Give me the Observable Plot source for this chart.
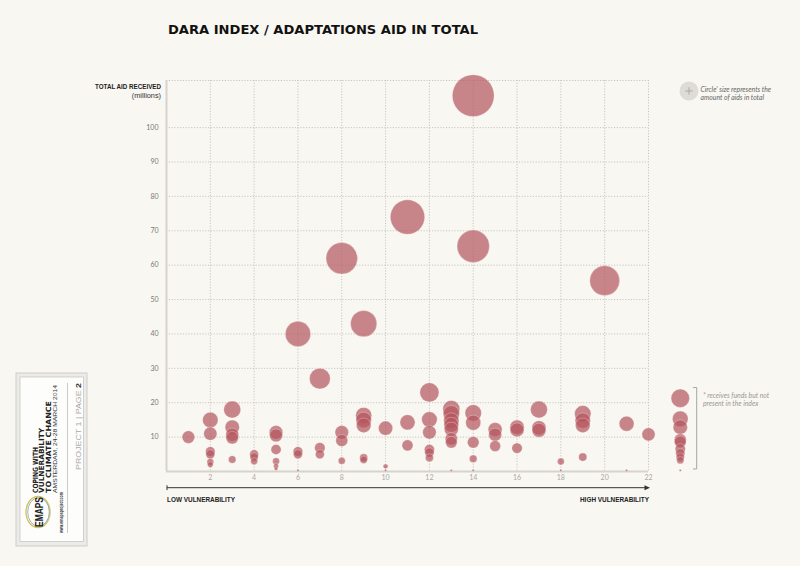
<!DOCTYPE html>
<html><head><meta charset="utf-8">
<script src="https://cdn.jsdelivr.net/npm/d3@7"></script>
<script src="https://cdn.jsdelivr.net/npm/@observablehq/plot@0.6"></script>
<style>
html,body{margin:0;padding:0;background:#f9f7f2;}
#chart{width:800px;height:566px;overflow:hidden;}
</style></head><body><div id="chart"></div>
<script>
// DARA index rank (vulnerability) for each recipient
const vulnerabilityRank = [
  1,
  2,2,2,2,2,2,
  3,3,3,3,3,
  4,4,4,
  5,5,5,5,5,5,
  6,6,6,6,
  7,7,7,
  8,8,8,8,
  9,9,9,9,9,9,
  10,10,10,
  11,11,11,
  12,12,12,12,12,12,
  13,13,13,13,13,13,13,13,
  14,14,14,14,14,14,14,
  15,15,15,
  16,16,16,
  17,17,17,
  18,18,
  19,19,19,19,
  20,
  21,21,
  22
];
// total adaptation aid received (millions)
const totalAid = [
  10,
  15, 11, 5.8, 5, 2.8, 2,
  18, 12.9, 10.7, 9.8, 3.5,
  5, 4.2, 3,
  11.4, 10.5, 6.4, 3, 1.6, 0.8,
  40, 5.8, 5, 0.3,
  27, 6.9, 5,
  62, 11.4, 9, 3.1,
  43, 16.3, 15, 13.4, 4, 3.4,
  12.6, 1.5, 0.3,
  74, 14.3, 7.6,
  23, 15.1, 11.4, 6.4, 5.5, 4,
  18.2, 16.8, 14.8, 13.6, 12.3, 9.5, 8.5, 0.3,
  109.3, 65.5, 17, 14.2, 8.5, 3.7, 0.3,
  12.2, 10.7, 7.4,
  12.9, 12.1, 6.8,
  18, 12.7, 12,
  2.9, 0.3,
  16.8, 14.8, 13.4, 4.2,
  55.5,
  13.9, 0.3,
  10.8
];
// recipients that receive funds but are not present in the index
const notInIndexAid = [21.3, 15.3, 12.9, 9.2, 8.6, 6.6, 5.3, 4.2, 3.3, 0.3];

const xTicks = [2,4,6,8,10,12,14,16,18,20,22];
const yTicks = [10,20,30,40,50,60,70,80,90,100];
const yTop = 113.7;
const notInIndexColumn = 23.45;

const data = vulnerabilityRank.map((v, i) => ({rank: v, aid: totalAid[i]}));
const naData = notInIndexAid.map(a => ({rank: notInIndexColumn, aid: a}));

const bubble = {fill: "#b4545c", fillOpacity: 0.7, stroke: "#ffffff", strokeOpacity: 0.35, strokeWidth: 0.8};
const gridStyle = {stroke: "#c9c6bf", strokeDasharray: "1.2,1.6", strokeWidth: 1};

const plot = Plot.plot({
  width: 800, height: 566,
  marginLeft: 166, marginRight: 152, marginTop: 80, marginBottom: 95,
  style: {background: "#f9f7f2", fontFamily: "Lato, 'Open Sans', sans-serif", overflow: "visible"},
  x: {domain: [0, 22], axis: null},
  y: {domain: [0, yTop], axis: null},
  r: {type: "sqrt", domain: [0, 109.3], range: [0, 20.9]},
  marks: [
    Plot.ruleX(xTicks, gridStyle),
    Plot.ruleY([...yTicks, yTop], gridStyle),
    Plot.ruleX([0], {stroke: "#d6d3cc", strokeWidth: 2}),
    Plot.ruleY([0], {stroke: "#d6d3cc", strokeWidth: 2}),
    Plot.axisX(xTicks, {tickSize: 0, tickPadding: 4, color: "#aaa8a2", fontSize: 7, label: null}),
    Plot.axisY(yTicks, {tickSize: 0, tickPadding: 8, color: "#7a7873", fontSize: 7, label: null}),
    Plot.dot(data, {x: "rank", y: "aid", r: "aid", ...bubble}),
    Plot.dot(naData, {x: "rank", y: "aid", r: "aid", ...bubble})
  ]
});

document.getElementById("chart").appendChild(plot);

const svg = d3.select(plot);
const ann = svg.append("g").attr("text-anchor", "start");
const narrow = "'Liberation Sans Narrow', 'Arial Narrow', sans-serif";

// title
ann.append("text").attr("x", 168).attr("y", 33.5)
  .attr("font-family", "'DejaVu Sans', sans-serif").attr("font-weight", "bold")
  .attr("font-size", 13).attr("fill", "#111")
  .attr("textLength", 310).attr("lengthAdjust", "spacingAndGlyphs")
  .text("DARA INDEX / ADAPTATIONS AID IN TOTAL");

// y label
ann.append("text").attr("x", 161).attr("y", 88.5).attr("text-anchor", "end")
  .attr("font-family", narrow).attr("font-weight", "bold").attr("font-size", 7.3).attr("fill", "#222")
  .attr("textLength", 66).attr("lengthAdjust", "spacingAndGlyphs")
  .text("TOTAL AID RECEIVED");
ann.append("text").attr("x", 161).attr("y", 98).attr("text-anchor", "end")
  .attr("font-family", narrow).attr("font-size", 7.3).attr("fill", "#333")
  .text("(millions)");

// vulnerability arrow
ann.append("line").attr("x1", 167).attr("x2", 646).attr("y1", 487.7).attr("y2", 487.7)
  .attr("stroke", "#333").attr("stroke-width", 1);
ann.append("line").attr("x1", 167).attr("x2", 167).attr("y1", 485.3).attr("y2", 490.1)
  .attr("stroke", "#333").attr("stroke-width", 1);
ann.append("path").attr("d", "M650,487.7L644.5,485.2L644.5,490.2Z").attr("fill", "#333");
ann.append("text").attr("x", 167).attr("y", 502)
  .attr("font-family", narrow).attr("font-weight", "bold").attr("font-size", 8).attr("fill", "#222")
  .attr("textLength", 68).attr("lengthAdjust", "spacingAndGlyphs")
  .text("LOW VULNERABILITY");
ann.append("text").attr("x", 649).attr("y", 502).attr("text-anchor", "end")
  .attr("font-family", narrow).attr("font-weight", "bold").attr("font-size", 8).attr("fill", "#222")
  .attr("textLength", 69).attr("lengthAdjust", "spacingAndGlyphs")
  .text("HIGH VULNERABILITY");

// size legend
ann.append("circle").attr("cx", 689).attr("cy", 91).attr("r", 9.5).attr("fill", "#dedcd6");
ann.append("path").attr("d", "M685.3,91H692.7M689,87.3V94.7").attr("stroke", "#a9a8a2").attr("stroke-width", 1);
const leg = ann.append("text").attr("font-family", "Lato, sans-serif").attr("font-style", "italic")
  .attr("font-size", 6.8).attr("fill", "#666");
leg.append("tspan").attr("x", 700.5).attr("y", 92.3).text("Circle' size represents the");
leg.append("tspan").attr("x", 700.5).attr("y", 100).text("amount of aids in total");

// not-in-index bracket and note
const yS = plot.scale("y"), rS = plot.scale("r");
const naMax = d3.max(notInIndexAid), naMin = d3.min(notInIndexAid);
const bTop = yS.apply(naMax) - rS.apply(naMax) - 1;
const bBot = yS.apply(naMin) - 1;
ann.append("path").attr("d", `M693,${bTop}H696.7V${bBot}H693`).attr("fill", "none")
  .attr("stroke", "#a8a6a0").attr("stroke-width", 1);
const note = ann.append("text").attr("font-family", "Lato, sans-serif").attr("font-style", "italic")
  .attr("font-size", 6.8).attr("fill", "#9a9892");
note.append("tspan").attr("x", 703).attr("y", 397.5).text("* receives funds but not");
note.append("tspan").attr("x", 703).attr("y", 406).text("present in the index");

// project box (bottom-left)
const box = ann.append("g");
box.append("rect").attr("x", 16).attr("y", 373).attr("width", 71).attr("height", 173)
  .attr("fill", "#ecebe7").attr("stroke", "#cfcec9").attr("stroke-width", 1);
box.append("rect").attr("x", 20).attr("y", 377).attr("width", 63.5).attr("height", 164.5)
  .attr("fill", "#fdfdfc").attr("stroke", "#c8c7c2").attr("stroke-width", 0.8);
function vtext(x, y, txt, opts) {
  const t = box.append("text").attr("transform", `translate(${x},${y}) rotate(-90)`)
    .attr("font-family", opts.family || "'DejaVu Sans', sans-serif")
    .attr("font-weight", opts.weight || "normal").attr("font-size", opts.size)
    .attr("fill", opts.fill || "#222");
  if (opts.len) t.attr("textLength", opts.len).attr("lengthAdjust", "spacingAndGlyphs");
  t.text(txt);
  return t;
}
vtext(38.3, 493, "COPING WITH", {weight: "bold", size: 7.2, len: 46});
vtext(44.4, 493, "VULNERABILITY", {weight: "bold", size: 7.2, len: 65});
vtext(50.5, 493, "TO CLIMATE CHANCE", {weight: "bold", size: 7.2, len: 92});
vtext(56.6, 493, "AMSTERDAM, 24-28 MARCH 2014", {size: 5.2, len: 108, fill: "#333", family: narrow});
vtext(62.6, 533, "www.emapsproject.com", {weight: "bold", size: 4.8, len: 41, fill: "#333", family: narrow});
box.append("line").attr("x1", 67.5).attr("x2", 67.5).attr("y1", 383).attr("y2", 533)
  .attr("stroke", "#bdbcb7").attr("stroke-width", 0.8);
const pj = box.append("text").attr("transform", "translate(81,470) rotate(-90)")
  .attr("font-family", narrow).attr("font-size", 6.6).attr("fill", "#aaa9a4")
  .attr("textLength", 87).attr("lengthAdjust", "spacingAndGlyphs");
pj.append("tspan").text("PROJECT 1 | PAGE ");
pj.append("tspan").attr("font-weight", "bold").attr("fill", "#333").text("2");
// EMAPS logo
box.append("ellipse").attr("cx", 38).attr("cy", 512).attr("rx", 12).attr("ry", 15.5)
  .attr("fill", "none").attr("stroke", "#d9c45e").attr("stroke-width", 1.4);
box.append("ellipse").attr("cx", 38.5).attr("cy", 512).attr("rx", 10.8).attr("ry", 14.3)
  .attr("fill", "none").attr("stroke", "#7fa3c8").attr("stroke-width", 0.8);
box.append("text").attr("transform", "translate(42.5,512) rotate(-90)").attr("text-anchor", "middle")
  .attr("font-family", narrow).attr("font-weight", "bold").attr("font-size", 11).attr("fill", "#222")
  .attr("textLength", 30).attr("lengthAdjust", "spacingAndGlyphs").text("EMAPS");
</script></body></html>
